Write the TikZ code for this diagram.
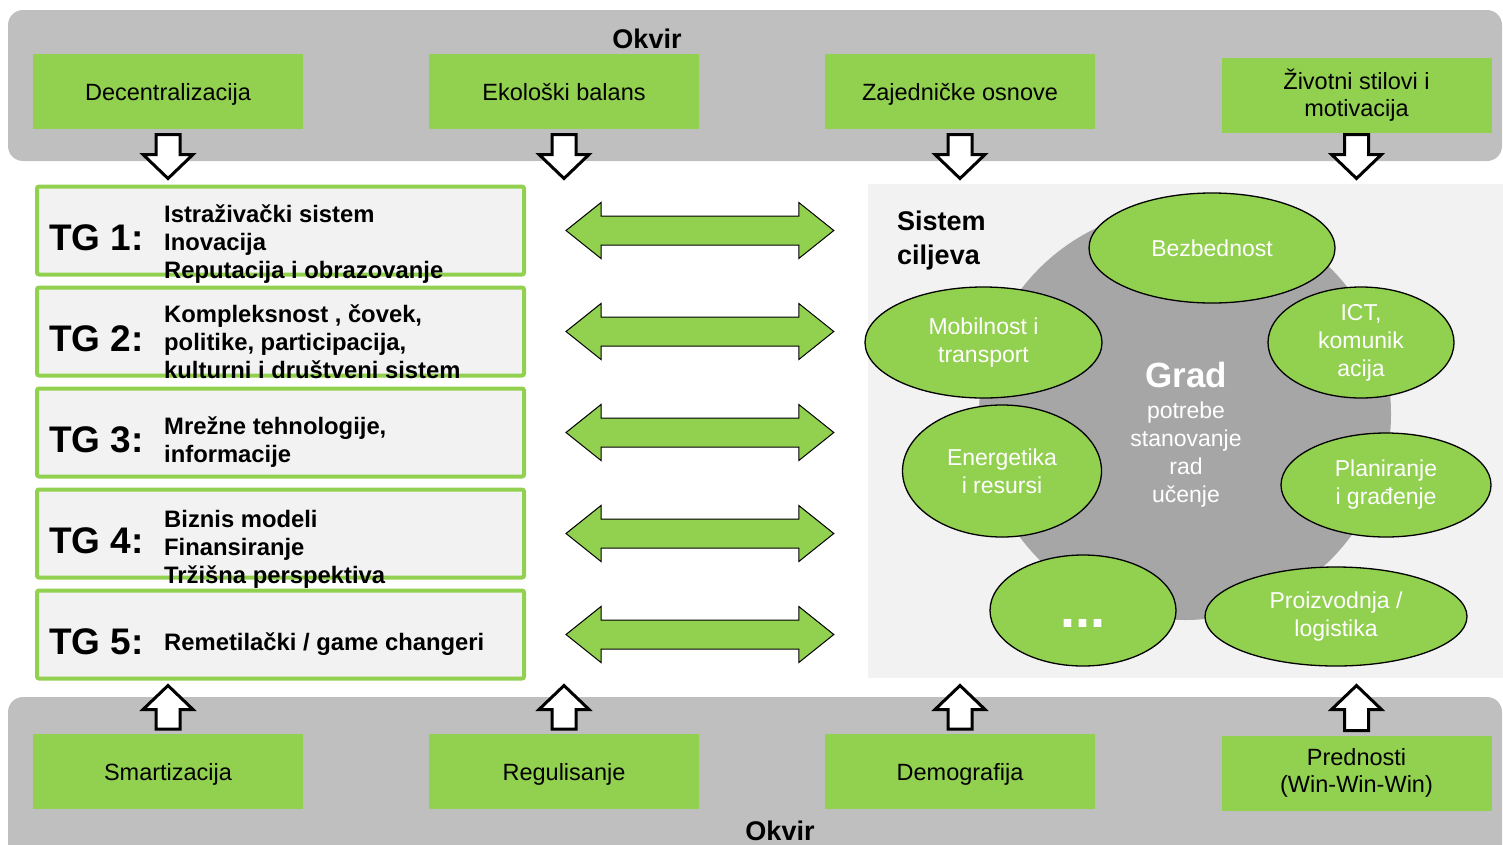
\documentclass[tikz,border=0pt]{standalone}
\usepackage{fontspec}
\setmainfont{Liberation Sans}
\usepackage{xcolor}
\usepackage{tikz}
\usetikzlibrary{calc,positioning,shapes.geometric}

\definecolor{zelena}{HTML}{92D050}
\definecolor{okvirsiva}{HTML}{BFBFBF}
\definecolor{svetlosiva}{HTML}{F2F2F2}
\definecolor{gradsiva}{HTML}{A6A6A6}

\begin{document}
\begin{tikzpicture}[
	%	style def
	x=1pt, y=-1pt,
	okvir/.style={fill=okvirsiva, rounded corners=15pt, inner sep=0pt, minimum width=1494pt},
	faktor/.style={fill=zelena, minimum width=270pt, minimum height=75pt, inner sep=0pt, align=center, font=\fontsize{23.5}{27}\selectfont},
	jedan/.style={text height=21pt, text depth=3pt},
	naslov/.style={font=\bfseries\fontsize{27}{32}\selectfont, inner sep=0pt},
	tgbox/.style={draw=zelena, line width=4pt, fill=svetlosiva, rounded corners=2pt, minimum width=487pt, minimum height=88pt, inner sep=0pt},
	tgoznaka/.style={font=\bfseries\fontsize{37}{40}\selectfont, inner sep=0pt},
	tgtekst/.style={font=\bfseries\fontsize{23.8}{28}\selectfont, align=left, inner sep=0pt},
	cilj/.style={ellipse, draw=black, line width=1.3pt, fill=zelena, text=white, align=center, inner sep=0pt, font=\fontsize{23}{28}\selectfont},
	gradtekst/.style={text=white, align=center, inner sep=0pt, font=\fontsize{23}{28}\selectfont},
	blokstrelica/.style={draw=black, line width=3pt, fill=white, line join=miter,
		to path={($(\tikztostart)!12pt!90:(\tikztotarget)$)
			-- ($(\tikztotarget)!24pt!(\tikztostart)!12pt!90:(\tikztotarget)$)
			-- ($(\tikztotarget)!24pt!(\tikztostart)!25pt!90:(\tikztotarget)$)
			-- (\tikztotarget)
			-- ($(\tikztotarget)!24pt!(\tikztostart)!25pt!-90:(\tikztotarget)$)
			-- ($(\tikztotarget)!24pt!(\tikztostart)!12pt!-90:(\tikztotarget)$)
			-- ($(\tikztostart)!12pt!-90:(\tikztotarget)$) -- cycle}},
	dvosmerna/.style={draw=black, line width=1pt, fill=zelena,
		to path={(\tikztostart)
			-- ($(\tikztostart)!35pt!(\tikztotarget)!28pt!90:(\tikztotarget)$)
			-- ($(\tikztostart)!35pt!(\tikztotarget)!14.5pt!90:(\tikztotarget)$)
			-- ($(\tikztotarget)!35pt!(\tikztostart)!14.5pt!90:(\tikztotarget)$)
			-- ($(\tikztotarget)!35pt!(\tikztostart)!28pt!90:(\tikztotarget)$)
			-- (\tikztotarget)
			-- ($(\tikztotarget)!35pt!(\tikztostart)!28pt!-90:(\tikztotarget)$)
			-- ($(\tikztotarget)!35pt!(\tikztostart)!14.5pt!-90:(\tikztotarget)$)
			-- ($(\tikztostart)!35pt!(\tikztotarget)!14.5pt!-90:(\tikztotarget)$)
			-- ($(\tikztostart)!35pt!(\tikztotarget)!28pt!-90:(\tikztotarget)$)
			-- cycle}}
	]
	\useasboundingbox (0,0) rectangle (1503,844);
	\clip (0,0) rectangle (1503,844);

	% okvir gore i dole
	\node[okvir, minimum height=151pt] (okvirgore) at (755,85.5) {};
	\node[okvir, minimum height=180pt] (okvirdole) at (755,787) {};
	\node[naslov, anchor=base] (okvir1) at (647,48) {Okvir};
	\node[naslov, anchor=base] (okvir2) at (780,840) {Okvir};

	% faktori
	\node[faktor, jedan] (dec) at (168,91.5) {Decentralizacija};
	\node[faktor, jedan] (eko) at (564,91.5) {Ekološki balans};
	\node[faktor, jedan] (zaj) at (960,91.5) {Zajedničke osnove};
	\node[faktor] (ziv) at (1356.5,95) {Životni stilovi i\\motivacija};
	\node[faktor, jedan] (sma) at (168,771.5) {Smartizacija};
	\node[faktor, jedan] (reg) at (564,771.5) {Regulisanje};
	\node[faktor, jedan] (dem) at (960,771.5) {Demografija};
	\node[faktor] (pre) at (1356.5,773) {Prednosti\\(Win-Win-Win)};

	% tematske grupe
	\node[tgbox] (tg1) at (280.5,230.5) {};
	\node[tgbox, below=9pt of tg1] (tg2) {};
	\node[tgbox, below=9pt of tg2] (tg3) {};
	\node[tgbox, below=9pt of tg3] (tg4) {};
	\node[tgbox, below=9pt of tg4] (tg5) {};
	\foreach \i in {1,...,5}
		\node[tgoznaka, anchor=base west] (tgl\i) at ($(tg\i.west)+(14,20)$) {TG \i:};
	\node[tgtekst, anchor=west] (tgt1) at (164,244) {Istraživački sistem\\Inovacija\\Reputacija i obrazovanje};
	\node[tgtekst, anchor=west] (tgt2) at (164,342) {Kompleksnost , čovek,\\politike, participacija,\\kulturni i društveni sistem};
	\node[tgtekst, anchor=west] (tgt3) at (164,442.5) {Mrežne tehnologije,\\informacije};
	\node[tgtekst, anchor=west] (tgt4) at (164,549) {Biznis modeli\\Finansiranje\\Tržišna perspektiva};
	\node[tgtekst, anchor=base west] (tgt5) at (164,650) {Remetilački / game changeri};

	% sistem ciljeva
	\node[fill=svetlosiva, minimum width=640pt, minimum height=494pt, inner sep=0pt] (panel) at (1188,431) {};
	\node[naslov, align=left, anchor=west, font=\bfseries\fontsize{27}{34}\selectfont] (sistem) at (897,241) {Sistem\\ciljeva};
	\node[circle, fill=gradsiva, minimum size=412pt, inner sep=0pt] (grad) at (1185,414) {};
	\node[cilj, minimum width=246pt, minimum height=110pt] (bez) at (1212,248) {Bezbednost};
	\node[cilj, minimum width=237pt, minimum height=111pt] (mob) at (983.5,342.5) {Mobilnost i\\transport};
	\node[cilj, minimum width=186pt, minimum height=111pt] (ict) at (1361,342.5) {ICT,\\komunik\\acija};
	\node[cilj, minimum width=199pt, minimum height=132pt] (ene) at (1002,471) {Energetika\\i resursi};
	\node[cilj, minimum width=210pt, minimum height=104pt] (pla) at (1386,485) {Planiranje\\i građenje};
	\node[cilj, minimum width=186pt, minimum height=111pt] (ost) at (1083,610.5) {};
	\node[cilj, minimum width=262pt, minimum height=99pt] (pro) at (1336,616.5) {Proizvodnja /\\logistika};
	\node[gradtekst, anchor=base, font=\bfseries\fontsize{54}{54}\selectfont] (tacke) at (1083,627) {...};
	\node[gradtekst, anchor=base, font=\bfseries\fontsize{35}{40}\selectfont] (gradime) at (1186,387) {Grad};
	\node[gradtekst] (potrebe) at (1186,455) {potrebe\\stanovanje\\rad\\učenje};

	% strelice okvira
	\foreach \f in {dec, eko, zaj, ziv}{
		\coordinate (\f-a) at ($(\f.south |- dec.south)+(0,5.5)$);
		\coordinate (\f-b) at ($(\f.south |- tg1.north)+(0,-6)$);
		\draw[blokstrelica] (\f-a) to (\f-b);
	}
	\foreach \f in {sma, reg, dem, pre}{
		\coordinate (\f-a) at ($(\f.north)+(0,-4.8)$);
		\coordinate (\f-b) at ($(\f.north |- tg5.south)+(0,5)$);
		\draw[blokstrelica] (\f-a) to (\f-b);
	}

	% veze grupa i sistema ciljeva
	\foreach \i in {1,...,5}{
		\coordinate (lv\i) at ($(tg\i.east)+(40,0)$);
		\coordinate (dv\i) at ($(tg\i.east -| panel.west)+(-34,0)$);
		\draw[dvosmerna] (lv\i) to (dv\i);
	}
\end{tikzpicture}
\end{document}
